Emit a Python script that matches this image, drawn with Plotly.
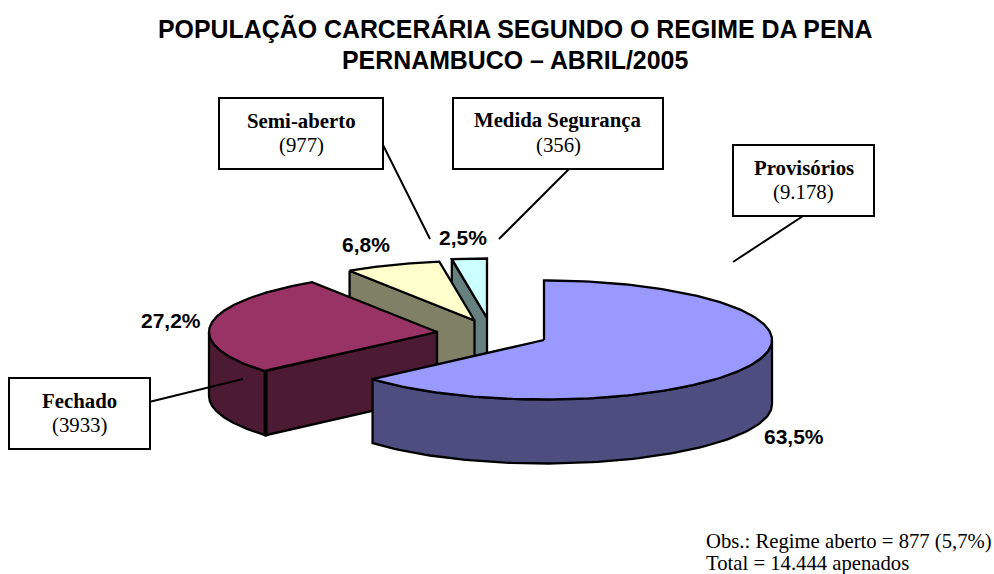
import numpy as np
import plotly.graph_objects as go

# --- data ---
categories = ["Provisórios", "Fechado", "Semi-aberto", "Medida Segurança"]
values = [9178, 3933, 977, 356]
percent_labels = ["63,5%", "27,2%", "6,8%", "2,5%"]
count_labels = ["(9.178)", "(3933)", "(977)", "(356)"]
title_lines = ["POPULAÇÃO CARCERÁRIA SEGUNDO O REGIME DA PENA", "PERNAMBUCO – ABRIL/2005"]
note_lines = ["Obs.: Regime aberto = 877 (5,7%)", "Total = 14.444 apenados"]

# --- styles / layout ---
top_colors = ["#9999FF", "#993366", "#FFFFCC", "#CCFFFF"]
wall_colors = ["#4D4D80", "#4D1A33", "#808066", "#668080"]
centers = [(544, 340), (437, 332), (474.5, 320.5), (487, 318)]
A, B, DEPTH = 228, 59.5, 64
pct_pos = [(794, 436), (171, 320), (366, 244), (463, 237)]
boxes = [(733, 145, 874, 216), (9, 378, 150, 449), (219, 98, 383, 169), (453, 98, 663, 169)]
leaders = [((803, 216), (733, 262)), ((149, 402), (243, 379)),
           ((383, 145), (430, 239)), ((569, 169), (499, 239))]

fracs = np.array(values) / sum(values) * 360
ends = np.cumsum(fracs)
starts = ends - fracs


def rim(c, t):
    t = np.radians(t)
    return c[0] + A * np.sin(t), c[1] - B * np.cos(t)


def poly(fig, x, y, color, lw=2.3):
    fig.add_trace(go.Scatter(x=list(x), y=list(y), mode="lines", fill="toself", fillcolor=color,
                             line=dict(color="black", width=lw), hoverinfo="skip", showlegend=False))


fig = go.Figure()
# back-to-front drawing order
for i in [3, 2, 1, 0]:
    c, s, e = centers[i], starts[i], ends[i]
    # cut face visible on the slice's near side
    if i in (1, 2, 3):
        px, py = rim(c, s)
        poly(fig, [px, c[0], c[0], px, px], [py, c[1], c[1] + DEPTH, py + DEPTH, py], wall_colors[i])
    # outer rim wall (only the part facing the viewer)
    lo, hi = max(s, 90), min(e, 270)
    if hi > lo:
        ts = np.linspace(lo, hi, 90)
        x, y = rim(c, ts)
        poly(fig, np.r_[x, x[::-1], x[0]], np.r_[y, y[::-1] + DEPTH, y[0]], wall_colors[i])
    # top face
    ts = np.linspace(s, e, 180)
    x, y = rim(c, ts)
    poly(fig, np.r_[c[0], x, c[0]], np.r_[c[1], y, c[1]], top_colors[i])
    if i == 1:
        px, py = rim(c, s)
        fig.add_trace(go.Scatter(x=[px, px], y=[py, py + DEPTH], mode="lines",
                                 line=dict(color="black", width=4), hoverinfo="skip", showlegend=False))

shapes = []
for (p, q) in leaders:
    shapes.append(dict(type="line", x0=p[0], y0=p[1], x1=q[0], y1=q[1], line=dict(color="black", width=2)))
for (x0, y0, x1, y1) in boxes:
    shapes.append(dict(type="rect", x0=x0, y0=y0, x1=x1, y1=y1, fillcolor="white", line=dict(color="black", width=2)))

annots = []


def note(x, y, text, size, family, anchor="center", color="black"):
    annots.append(dict(x=x, y=y, text=text, showarrow=False, xanchor=anchor, yanchor="middle",
                       font=dict(size=size, family=family, color=color), xref="x", yref="y"))


SANS, SERIF = "Liberation Sans", "Liberation Serif"
note(515, 28, f"<b>{title_lines[0]}</b>", 24.9, SANS)
note(515, 60, f"<b>{title_lines[1]}</b>", 24.9, SANS)
for i, cat in enumerate(categories):
    x0, y0, x1, y1 = boxes[i]
    xm = (x0 + x1) / 2
    note(xm, y0 + 22, f"<b>{cat}</b>", 20.8, SERIF)
    note(xm, y0 + 47, count_labels[i], 20.8, SERIF)
    note(pct_pos[i][0], pct_pos[i][1], f"<b>{percent_labels[i]}</b>", 21, SANS)
note(704, 541, note_lines[0], 20.7, SERIF, anchor="left")
note(704, 563, note_lines[1], 20.7, SERIF, anchor="left")

fig.update_layout(
    width=994, height=574, margin=dict(l=0, r=0, t=0, b=0),
    paper_bgcolor="white", plot_bgcolor="white", showlegend=False,
    xaxis=dict(range=[0, 994], visible=False, fixedrange=True),
    yaxis=dict(range=[574, 0], visible=False, fixedrange=True),
    shapes=shapes, annotations=annots,
)
fig.write_html("out.html", config={"displayModeBar": False},
               post_script="document.body.style.margin='0';document.body.style.overflow='hidden';")
